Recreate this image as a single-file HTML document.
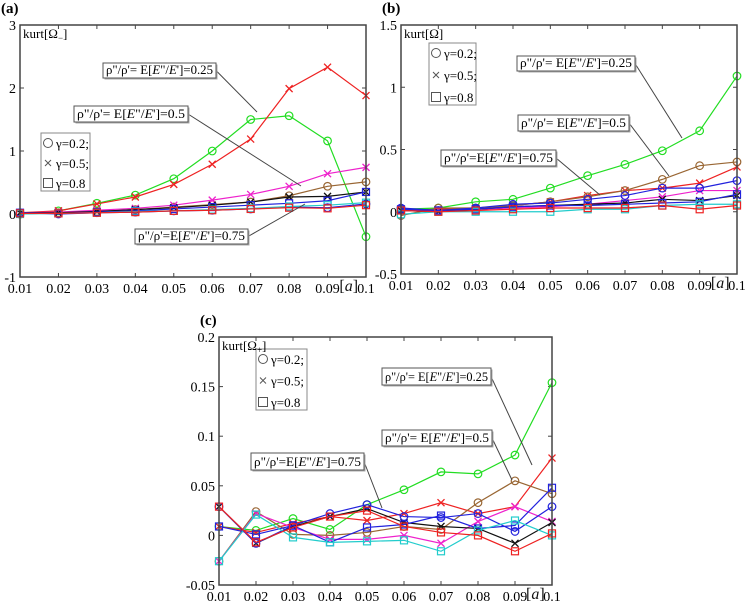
<!DOCTYPE html>
<html><head><meta charset="utf-8">
<style>
html,body{margin:0;padding:0;background:#fff;}
svg{display:block;font-family:"Liberation Serif",serif;}
</style></head>
<body>
<svg id="fig" width="746" height="602" viewBox="0 0 746 602"></svg>
<script>
// ---------- data ----------
const xCats = [0.01,0.02,0.03,0.04,0.05,0.06,0.07,0.08,0.09,0.1];
const xTickLabels = ["0.01","0.02","0.03","0.04","0.05","0.06","0.07","0.08","0.09","0.1"];
const seriesNames = ["green-circle","red-cross","brown-circle","magenta-cross","black-cross","blue-circle","blue-square","cyan-square","red-square"];
const seriesColors = ["#22dd22","#ee2222","#996633","#ee22cc","#111111","#2222dd","#2222dd","#22cccc","#ee2222"];
const seriesMarkers = ["o","x","o","x","x","o","s","s","s"];

const aTicks = [3,2,1,0,-1];
const aGreen   = [0.0,0.05,0.17,0.3,0.56,1.0,1.5,1.56,1.16,-0.36];
const aRedX    = [0.02,0.05,0.16,0.27,0.47,0.79,1.19,1.99,2.33,1.88];
const aBrown   = [0.0,0.02,0.04,0.07,0.11,0.15,0.19,0.29,0.44,0.51];
const aMagenta = [0.02,0.03,0.06,0.09,0.14,0.22,0.31,0.44,0.64,0.74];
const aBlack   = [0.02,0.02,0.04,0.07,0.1,0.14,0.19,0.27,0.28,0.35];
const aBlueO   = [0.02,0.0,0.02,0.03,0.05,0.06,0.08,0.11,0.1,0.16];
const aBlueS   = [0.02,0.01,0.03,0.05,0.08,0.11,0.14,0.17,0.21,0.35];
const aCyan    = [0.0,0.01,0.02,0.04,0.05,0.07,0.09,0.12,0.14,0.18];
const aRedS    = [0.01,0.01,0.02,0.03,0.05,0.06,0.08,0.1,0.09,0.14];

const bTicks = [1.5,1,0.5,0,-0.5];
const bGreen   = [0.02,0.03,0.08,0.1,0.19,0.29,0.38,0.49,0.65,1.09];
const bRedX    = [0.01,0.02,0.03,0.05,0.08,0.13,0.17,0.19,0.23,0.36];
const bBrown   = [-0.03,0.03,0.03,0.05,0.08,0.12,0.17,0.26,0.37,0.4];
const bMagenta = [0.01,0.01,0.02,0.03,0.04,0.06,0.09,0.12,0.17,0.17];
const bBlack   = [0.01,0.0,0.02,0.04,0.05,0.06,0.07,0.1,0.09,0.13];
const bBlueO   = [0.03,0.01,0.03,0.06,0.07,0.1,0.13,0.19,0.19,0.25];
const bBlueS   = [0.02,0.01,0.02,0.04,0.05,0.05,0.06,0.07,0.08,0.14];
const bCyan    = [-0.02,0.0,0.0,0.0,0.0,0.02,0.02,0.05,0.06,0.06];
const bRedS    = [0.01,0.0,0.01,0.02,0.03,0.03,0.03,0.05,0.02,0.05];

const cTicks = [0.2,0.15,0.1,0.05,0,-0.05];
const cTickLabels = ["0.2","0.15","0.1","0.05","0","-0.05"];
const cGreen   = [0.009,0.005,0.017,0.006,0.031,0.046,0.064,0.062,0.081,0.154];
const cRedX    = [0.009,0.003,0.012,0.019,0.015,0.022,0.033,0.022,0.029,0.078];
const cBrown   = [-0.026,0.024,0.001,0.0,0.003,0.009,0.006,0.033,0.055,0.042];
const cMagenta = [-0.026,0.022,0.008,-0.004,-0.004,0.0,-0.008,0.014,0.029,0.014];
const cBlack   = [0.029,-0.008,0.009,0.019,0.027,0.013,0.009,0.007,-0.008,0.013];
const cBlueO   = [0.029,-0.008,0.01,0.022,0.031,0.019,0.018,0.022,0.004,0.029];
const cBlueS   = [0.009,0.001,0.01,-0.007,0.008,0.011,0.02,0.007,0.01,0.048];
const cCyan    = [-0.026,0.021,-0.002,-0.007,-0.006,-0.005,-0.016,0.005,0.015,0.0];
const cRedS    = [0.029,-0.007,0.008,0.019,0.025,0.009,0.003,0.0,-0.016,0.002];

// ---------- drawing ----------
const NS = "http://www.w3.org/2000/svg";
const svg = document.getElementById("fig");
function mk(tag, attrs, parent, text){
  const e = document.createElementNS(NS, tag);
  for (const k in attrs) e.setAttribute(k, attrs[k]);
  if (text !== undefined) e.textContent = text;
  (parent || svg).appendChild(e);
  return e;
}

const panels = [
  {id:"a", L:20, R:366, T:25, B:277, ymin:-1, ymax:3, ticks:aTicks, tickLabels:aTicks.map(String), ylab:"kurt[Ω", sub:"−",
   series:[aGreen,aRedX,aBrown,aMagenta,aBlack,aBlueO,aBlueS,aCyan,aRedS],
   legend:[41,133,49,58],
   boxes:[{t:"0.25",x:103,y:63,w:113,h:15,lx:257,ly:112,sp:"= "},{t:"0.5",x:74,y:106,w:114,h:16,lx:301,ly:186,sp:"= "},{t:"0.75",x:135,y:229,w:113,h:15,lx:305,ly:204,sp:"="}]},
  {id:"b", L:401, R:737, T:25, B:274, ymin:-0.5, ymax:1.5, ticks:bTicks, tickLabels:bTicks.map(String), ylab:"kurt[Ω", sub:"",
   series:[bGreen,bRedX,bBrown,bMagenta,bBlack,bBlueO,bBlueS,bCyan,bRedS],
   legend:[429,43,47,62],
   boxes:[{t:"0.25",x:517,y:56,w:118,h:15,lx:682,ly:138,sp:"= "},{t:"0.5",x:518,y:115,w:111,h:16,lx:669,ly:176,sp:"= "},{t:"0.75",x:441,y:150,w:115,h:16,lx:600,ly:195,sp:"="}]},
  {id:"c", L:219, R:552, T:337, B:585, ymin:-0.05, ymax:0.2, ticks:cTicks, tickLabels:cTickLabels, ylab:"kurt[Ω", sub:"+",
   series:[cGreen,cRedX,cBrown,cMagenta,cBlack,cBlueO,cBlueS,cCyan,cRedS],
   legend:[256,349,51,61],
   boxes:[{t:"0.25",x:382,y:368,w:109,h:17,lx:532,ly:465,sp:"= "},{t:"0.5",x:382,y:430,w:110,h:16,lx:512,ly:480,sp:"= "},{t:"0.75",x:251,y:453,w:113,h:17,lx:382,ly:508,sp:"="}]}
];

panels.forEach(p => {
  const g = mk("g", {});
  
  
  const xs = v => p.L + (v - xCats[0]) / (xCats[xCats.length-1] - xCats[0]) * (p.R - p.L);
  const ys = v => p.B - (v - p.ymin) / (p.ymax - p.ymin) * (p.B - p.T);

  const lbl = mk("text", {x:p.L-19, y:p.T-12, "font-size":15, "font-weight":"bold"}, g, "(" + p.id + ")");
  
  

  p.ticks.forEach((t,i) => {
    const y = ys(t);
    mk("line", {x1:p.L, x2:p.L+4, y1:y, y2:y, stroke:"#444"}, g);
    mk("line", {x1:p.R, x2:p.R-4, y1:y, y2:y, stroke:"#444"}, g);
    const tl = mk("text", {x:p.L-4, y:y+5, "font-size":14, "text-anchor":"end"}, g, p.tickLabels[i]);
    
    
  });
  xCats.forEach((c,i) => {
    const x = xs(c);
    mk("line", {x1:x, x2:x, y1:p.B, y2:p.B-4, stroke:"#444"}, g);
    mk("line", {x1:x, x2:x, y1:p.T, y2:p.T+4, stroke:"#444"}, g);
    const tl = mk("text", {x:x, y:p.B+16, "font-size":14, "text-anchor":"middle"}, g, xTickLabels[i]);
    
    
  });
  const xt = mk("text", {x:xs(0.0955), y:p.B+14, "font-size":16, "text-anchor":"middle", fill:"#111"}, g);
  xt.innerHTML = '[<tspan font-style="italic">a</tspan>]';
  
  

  p.series.forEach((vals, si) => {
    const col = seriesColors[si];
    const sg = mk("g", {}, g);
    
    
    const pts = vals.map((v,i) => xs(xCats[i]) + "," + ys(v)).join(" ");
    mk("polyline", {points:pts, fill:"none", stroke:col, "stroke-width":1.2}, sg);
    vals.forEach((v,i) => {
      const x = xs(xCats[i]), y = ys(v);
      let m;
      if (seriesMarkers[si] === "o") m = mk("circle", {cx:x, cy:y, r:3.8, fill:"none", stroke:col, "stroke-width":1.2}, sg);
      else if (seriesMarkers[si] === "s") m = mk("rect", {x:x-3.5, y:y-3.5, width:7, height:7, fill:"none", stroke:col, "stroke-width":1.2}, sg);
      else m = mk("path", {d:`M${x-3.5} ${y-3.5}L${x+3.5} ${y+3.5}M${x-3.5} ${y+3.5}L${x+3.5} ${y-3.5}`, stroke:col, "stroke-width":1.3}, sg);
      
      
    });
  });

  const fr = mk("rect", {x:p.L, y:p.T, width:p.R-p.L, height:p.B-p.T, fill:"none", stroke:"#444", "stroke-width":1.5}, g);
  
  

  // legend
  const [lx, ly, lw, lh] = p.legend;
  const lg = mk("g", {}, g);
  
  
  mk("rect", {x:lx, y:ly, width:lw, height:lh, fill:"#fff", stroke:"#888", "stroke-width":1}, lg);
  const rows = [["o","γ=0.2;"],["x","γ=0.5;"],["s","γ=0.8"]];
  rows.forEach((r,i) => {
    const cy = ly + 10 + i*(lh-18)/2;
    const mx = lx + 7;
    if (r[0]==="o") mk("circle",{cx:mx,cy:cy,r:4.5,fill:"none",stroke:"#555"},lg);
    else if (r[0]==="s") mk("rect",{x:mx-4.5,y:cy-4.5,width:9,height:9,fill:"none",stroke:"#555"},lg);
    else mk("path",{d:`M${mx-3} ${cy-3}L${mx+3} ${cy+3}M${mx-3} ${cy+3}L${mx+3} ${cy-3}`,stroke:"#555"},lg);
    const t = mk("text",{x:lx+15,y:cy+5,"font-size":13},lg,r[1]);
    
    
  });

  const yl = mk("text", {x:p.L+3, y:p.T+13, "font-size":13}, g);
  yl.innerHTML = p.ylab + (p.sub ? '<tspan font-size="9" dy="3">' + p.sub + '</tspan><tspan dy="-3">]</tspan>' : ']');
  
  

  p.boxes.forEach(b => {
    const ag = mk("g", {}, g);
    
    
    mk("line",{x1:b.x+b.w,y1:b.y+b.h/2,x2:b.lx,y2:b.ly,stroke:"#444","stroke-width":1},ag);
    mk("rect",{x:b.x+1.5,y:b.y+1.5,width:b.w,height:b.h,fill:"#aaa"},ag);
    mk("rect",{x:b.x,y:b.y,width:b.w,height:b.h,fill:"#fff",stroke:"#555","stroke-width":1},ag);
    const t = mk("text",{x:b.x+b.w/2,y:b.y+b.h-4,"font-size":13,"text-anchor":"middle",textLength:b.w-6,lengthAdjust:"spacingAndGlyphs"},ag);
    t.innerHTML = 'ρ"/ρ\'' + b.sp + 'E[<tspan font-style="italic">E</tspan>"/<tspan font-style="italic">E</tspan>\']=' + b.t;
  });
});
</script>
</body></html>
